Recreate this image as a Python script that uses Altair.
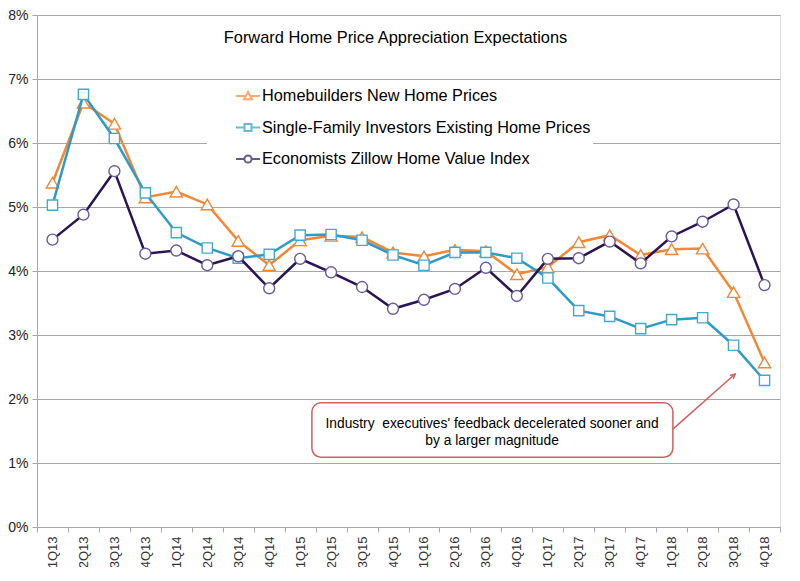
import json
import altair as alt
import pandas as pd

# ---- data ----
quarters = ["1Q13", "2Q13", "3Q13", "4Q13", "1Q14", "2Q14", "3Q14", "4Q14",
            "1Q15", "2Q15", "3Q15", "4Q15", "1Q16", "2Q16", "3Q16", "4Q16",
            "1Q17", "2Q17", "3Q17", "4Q17", "1Q18", "2Q18", "3Q18", "4Q18"]

series_names = ["Homebuilders New Home Prices",
                "Single-Family Investors Existing Home Prices",
                "Economists Zillow Home Value Index"]

homebuilders = [5.38, 6.63, 6.30, 5.15, 5.24, 5.04, 4.47, 4.09,
                4.48, 4.55, 4.53, 4.29, 4.23, 4.33, 4.31, 3.95,
                4.06, 4.45, 4.56, 4.25, 4.34, 4.35, 3.67, 2.57]

investors = [5.03, 6.76, 6.07, 5.22, 4.60, 4.36, 4.20, 4.26,
             4.56, 4.57, 4.48, 4.25, 4.09, 4.29, 4.29, 4.20,
             3.89, 3.38, 3.29, 3.10, 3.24, 3.27, 2.84, 2.29]

economists = [4.49, 4.88, 5.56, 4.27, 4.32, 4.09, 4.23, 3.73,
              4.19, 3.98, 3.75, 3.41, 3.55, 3.72, 4.05, 3.61,
              4.19, 4.20, 4.46, 4.12, 4.54, 4.77, 5.04, 3.78]

chart_title = "Forward Home Price Appreciation Expectations"
note_text = "Industry\u00a0 executives' feedback decelerated sooner and\nby a larger magnitude"
# annotation placed in data coordinates (category index units, percent)
note_box_x = [8.88, 20.54]
note_box_y = [1.94, 1.09]
note_text_pos = [14.70, 1.61]
note_arrow_x = [20.54, 22.55]
note_arrow_y = [1.53, 2.39]

# ---- styles ----
FONT = "Liberation Sans"
line_colors = ["#F58634", "#2E9BC7", "#2A1453"]
marker_colors = ["#F58634", "#45A9CF", "#6A5A9C"]
marker_shapes = ["triangle-up", "square", "circle"]
marker_sizes = [150, 105, 120]
legend_paths = [
    "M-1,0H-0.19 M0.19,0H1 M-0.34,0.28L0,-0.34L0.34,0.28Z",
    "M-1,0H-0.29 M0.29,0H1 M-0.29,-0.29H0.29V0.29H-0.29Z",
    "M-1,0H-0.3 M0.3,0H1 M0.3,0A0.3,0.3 0 1,1 -0.3,0A0.3,0.3 0 1,1 0.3,0Z",
]
GRID = "#A6A6A6"
NOTE = "#D0605E"

x_axis = alt.Axis(
    values=list(range(25)),
    labelExpr=f"datum.value < 24 ? {json.dumps(quarters)}[datum.value] : ''",
    labelAngle=-90, labelOffset=15.48, labelFontSize=13, labelColor="#333333",
    labelPadding=4, tickSize=5, tickColor=GRID, domainColor=GRID,
    grid=False, title=None, labelFont=FONT,
)
y_axis = alt.Axis(
    values=list(range(9)), labelExpr="datum.value + '%'",
    labelFontSize=14, labelColor="#222222", labelPadding=4, tickSize=5,
    tickColor=GRID, domainColor=GRID, gridColor=GRID, grid=True,
    title=None, labelFont=FONT,
)
x_scale = alt.Scale(domain=[0, 24], nice=False, zero=False)
y_scale = alt.Scale(domain=[0, 8], nice=False)
x_enc = alt.X("pos:Q", scale=x_scale, axis=x_axis)
y_enc = alt.Y("value:Q", scale=y_scale, axis=y_axis)

layers = []
for i, vals in enumerate([homebuilders, investors, economists]):
    df = pd.DataFrame({"quarter": quarters,
                       "pos": [k + 0.5 for k in range(len(quarters))],
                       "value": vals})
    base = alt.Chart(df)
    layers.append(base.mark_line(color=line_colors[i], strokeWidth=2.5).encode(x=x_enc, y=y_enc))
    layers.append(base.mark_point(shape=marker_shapes[i], size=marker_sizes[i], filled=True,
                                  fill="white", stroke=marker_colors[i], strokeWidth=1.4,
                                  opacity=1).encode(x=x_enc, y=y_enc))

# legend layer (points kept outside the plot and clipped)
legend_df = pd.DataFrame({"series": series_names, "pos": [0.0] * 3, "value": [-1.0] * 3})
leg = alt.Legend(title=None, orient="none", legendX=170, legendY=66, padding=2,
                 fillColor="white", symbolOffset=26, symbolSize=576, symbolStrokeWidth=2,
                 labelFont=FONT, labelFontSize=16.3, labelColor="black", labelOffset=1,
                 labelLimit=500, rowPadding=9.5, symbolFillColor="white")
layers.append(
    alt.Chart(legend_df).mark_point(clip=True, filled=False, fill="white", strokeWidth=2).encode(
        x=x_enc, y=y_enc,
        stroke=alt.Stroke("series:N", scale=alt.Scale(domain=series_names, range=line_colors), legend=leg),
        shape=alt.Shape("series:N", scale=alt.Scale(domain=series_names, range=legend_paths), legend=leg),
    )
)

# annotation
box_df = pd.DataFrame({"x1": [note_box_x[0]], "x2": [note_box_x[1]],
                       "y1": [note_box_y[0]], "y2": [note_box_y[1]]})
layers.append(alt.Chart(box_df).mark_rect(cornerRadius=9, fill="white", stroke=NOTE, strokeWidth=1.5).encode(
    x=alt.X("x1:Q", scale=x_scale, axis=x_axis), x2="x2:Q",
    y=alt.Y("y1:Q", scale=y_scale, axis=y_axis), y2="y2:Q"))
txt_df = pd.DataFrame({"x": [note_text_pos[0]], "y": [note_text_pos[1]], "t": [note_text]})
layers.append(alt.Chart(txt_df).mark_text(align="center", baseline="middle", lineBreak="\n",
                                          lineHeight=17, fontSize=13.8, color="black", font=FONT).encode(
    x=alt.X("x:Q", scale=x_scale, axis=x_axis),
    y=alt.Y("y:Q", scale=y_scale, axis=y_axis), text="t:N"))
arr_df = pd.DataFrame({"x1": [note_arrow_x[0]], "x2": [note_arrow_x[1]],
                       "y1": [note_arrow_y[0]], "y2": [note_arrow_y[1]]})
layers.append(alt.Chart(arr_df).mark_rule(color=NOTE, strokeWidth=1.5).encode(
    x=alt.X("x1:Q", scale=x_scale, axis=x_axis), x2="x2:Q",
    y=alt.Y("y1:Q", scale=y_scale, axis=y_axis), y2="y2:Q"))
layers.append(alt.Chart(arr_df).mark_point(shape="M-0.5,1L0,0L0.5,1", size=90, angle=48, filled=False,
                                           stroke=NOTE, strokeWidth=1.5, opacity=1).encode(
    x=alt.X("x2:Q", scale=x_scale, axis=x_axis),
    y=alt.Y("y2:Q", scale=y_scale, axis=y_axis)))

chart = alt.layer(*layers).properties(
    width=743, height=512,
    title=alt.TitleParams(text=chart_title, font=FONT, fontSize=16.4, fontWeight="normal",
                          color="black", anchor="middle", offset=-38, dx=-13),
    padding={"left": 29, "top": 7, "right": 12, "bottom": 40},
    autosize=alt.AutoSizeParams(type="none"),
).configure_view(stroke=None).configure(font=FONT)

chart.save("out.html", embed_options={"renderer": "svg", "actions": False})
